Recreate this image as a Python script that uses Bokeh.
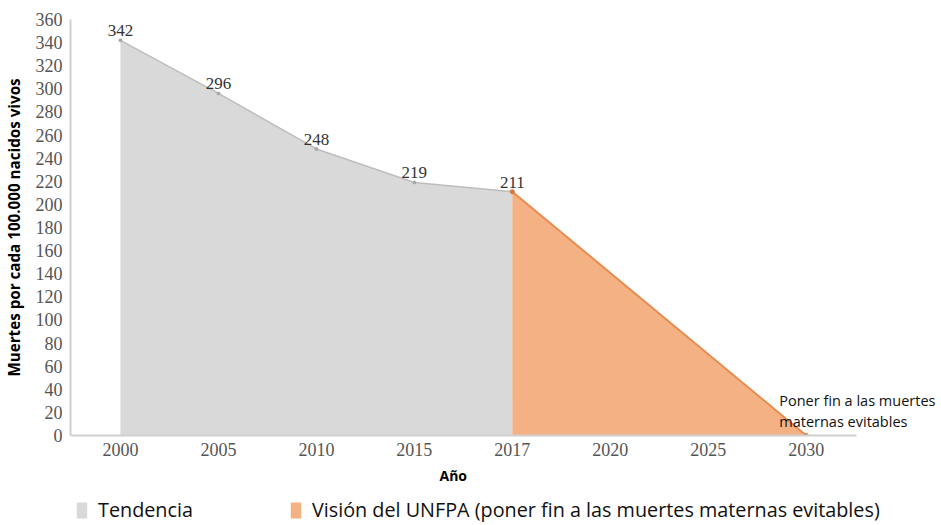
from bokeh.plotting import figure
from bokeh.models import Range1d, Legend, LegendItem, Label, FixedTicker, ColumnDataSource, Title
from bokeh.layouts import column
from bokeh.embed import file_html
from bokeh.resources import INLINE
from bokeh.core.properties import value

years = ["2000", "2005", "2010", "2015", "2017", "2020", "2025", "2030"]
trend_years = ["2000", "2005", "2010", "2015", "2017"]
trend_values = [342, 296, 248, 219, 211]
vision_years = ["2017", "2030"]
vision_values = [211, 0]
y_ticks = list(range(0, 361, 20))
annotation_lines = ["Poner fin a las muertes", "maternas evitables"]
legend_labels = ["Tendencia", "Visión del UNFPA (poner fin a las muertes maternas evitables)"]

pos = {y: i for i, y in enumerate(years)}

p = figure(width=938, height=489, x_range=Range1d(-0.51, 8.35), y_range=Range1d(0, 360),
           output_backend="svg", toolbar_location=None,
           min_border_left=69, min_border_top=19, min_border_right=0, min_border_bottom=5)
p.outline_line_color = None
p.grid.visible = False

src_t = ColumnDataSource(dict(x=[pos[y] for y in trend_years], y=trend_values,
                              lbl=[str(v) for v in trend_values]))
src_v = ColumnDataSource(dict(x=[pos[y] for y in vision_years], y=vision_values))

p.varea(x="x", y1=0, y2="y", source=src_t, fill_color="#D9D9D9")
p.line(x="x", y="y", source=src_t, line_color="#BDBDBD", line_width=1.5)
p.scatter(x="x", y="y", source=src_t, size=3, color="#A8A8A8")

p.varea(x="x", y1=0, y2="y", source=src_v, fill_color="#F4B183")
p.line(x="x", y="y", source=src_v, line_color="#E98B4F", line_width=2)
p.scatter(x="x", y="y", source=src_v, size=4, color="#D9773A")

p.text(x="x", y="y", text="lbl", source=src_t, y_offset=-4, text_align="center",
       text_baseline="bottom", text_font=value("Liberation Serif"), text_font_size="17px",
       text_color="#333333")

end_x = pos[vision_years[-1]]
for i, t in enumerate(annotation_lines):
    p.add_layout(Label(x=end_x, y=vision_values[-1], x_offset=-27, y_offset=35 - 21 * i, text=t,
                       text_font="Open Sans", text_font_size="14.5px", text_color="#111111",
                       text_baseline="middle"))

for ax in (p.xaxis[0], p.yaxis[0]):
    ax.axis_line_color = "#D0D0D0"
    ax.axis_line_width = 2
    ax.major_tick_line_color = None
    ax.minor_tick_line_color = None
    ax.major_label_text_font = "Liberation Serif"
    ax.major_label_text_font_size = "18px"
    ax.major_label_text_color = "#555555"
    ax.axis_label_text_font = "Open Sans"
    ax.axis_label_text_font_style = "bold"
    ax.axis_label_text_color = "#000000"

p.xaxis.ticker = FixedTicker(ticks=list(range(len(years))))
p.xaxis.major_label_overrides = {i: y for i, y in enumerate(years)}
p.xaxis.bounds = (-0.51, len(years) - 0.49)
p.yaxis.ticker = FixedTicker(ticks=y_ticks)
p.yaxis.major_label_standoff = 2
p.xaxis.major_label_standoff = 1
p.yaxis.axis_label = "Muertes por cada 100.000 nacidos vivos"
p.yaxis.axis_label_text_font_size = "15.2px"
p.yaxis.axis_label_standoff = 9

p.add_layout(Title(text="Año", align="left", offset=369, text_font="Open Sans",
                   text_font_size="14px", text_font_style="bold", text_color="#000000",
                   standoff=10), "below")

# legend strip below the chart (proxy renderers drawn outside the visible range)
lg = figure(width=938, height=34, x_range=Range1d(0, 1), y_range=Range1d(-2, -1),
            output_backend="svg", toolbar_location=None, min_border=0)
lg.axis.visible = False
lg.grid.visible = False
lg.outline_line_color = None
r1 = lg.varea(x="x", y1=0, y2="y", source=src_t, fill_color="#D9D9D9")
r2 = lg.varea(x="x", y1=0, y2="y", source=src_v, fill_color="#F4B183")
legend = Legend(items=[LegendItem(label=legend_labels[0], renderers=[r1]),
                       LegendItem(label=legend_labels[1], renderers=[r2])],
                orientation="horizontal", location=(5, 0), spacing=96,
                label_text_font="Open Sans", label_text_font_size="19.8px", label_text_color="#111111",
                glyph_width=13, glyph_height=20, border_line_color=None, background_fill_alpha=0,
                padding=0, margin=0, label_standoff=10)
lg.add_layout(legend)

layout = column(p, lg, spacing=0)
open("out.html", "w").write(file_html(layout, INLINE))
